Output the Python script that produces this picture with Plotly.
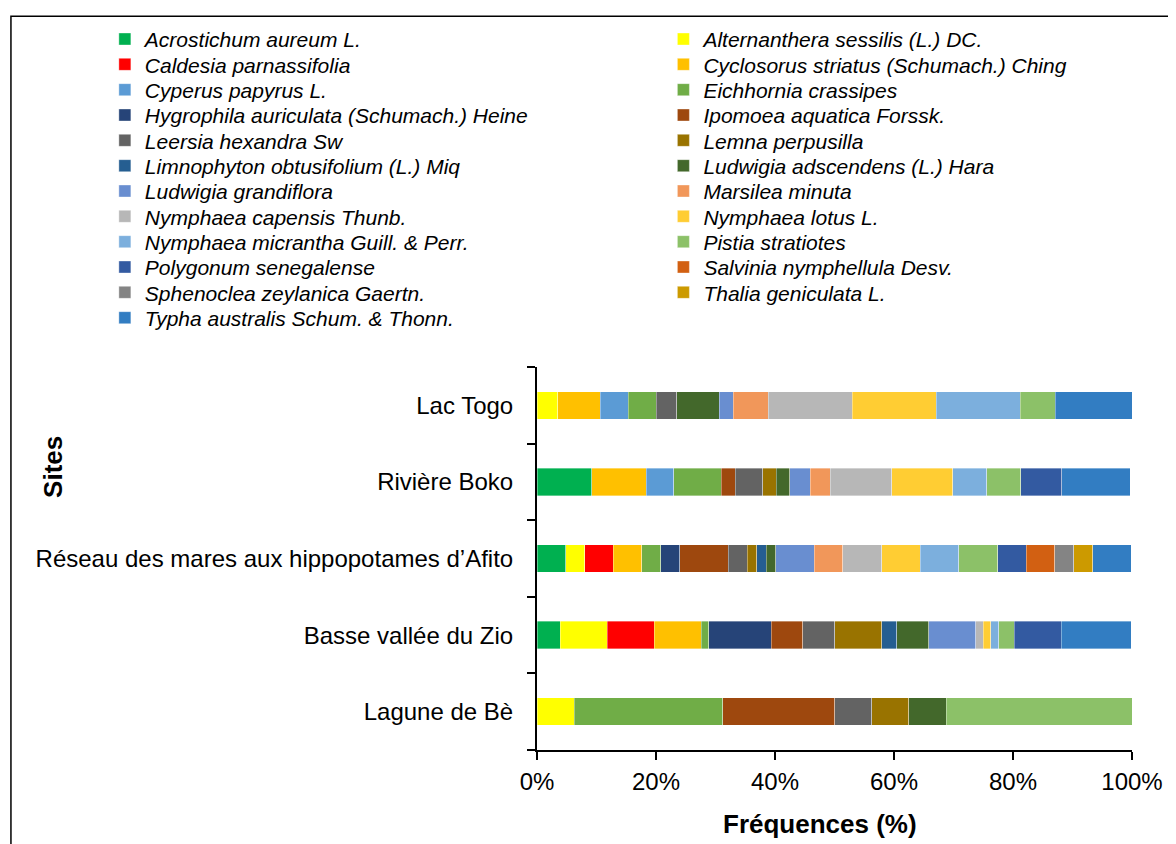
import plotly.graph_objects as go

sites = ["Lagune de Bè", "Basse vallée du Zio",
         "Réseau des mares aux hippopotames d’Afito", "Rivière Boko", "Lac Togo"]

species = [
    "Acrostichum aureum L.", "Alternanthera sessilis (L.) DC.",
    "Caldesia parnassifolia", "Cyclosorus striatus (Schumach.) Ching",
    "Cyperus papyrus L.", "Eichhornia crassipes",
    "Hygrophila auriculata (Schumach.) Heine", "Ipomoea aquatica Forssk.",
    "Leersia hexandra Sw", "Lemna perpusilla",
    "Limnophyton obtusifolium (L.) Miq", "Ludwigia adscendens (L.) Hara",
    "Ludwigia grandiflora", "Marsilea minuta",
    "Nymphaea capensis Thunb.", "Nymphaea lotus L.",
    "Nymphaea micrantha Guill. & Perr.", "Pistia stratiotes",
    "Polygonum senegalense", "Salvinia nymphellula Desv.",
    "Sphenoclea zeylanica Gaertn.", "Thalia geniculata L.",
    "Typha australis Schum. & Thonn.",
]

# values per site, order: Lagune de Bè, Basse vallée du Zio, Réseau..., Rivière Boko, Lac Togo
acrostichum = [0, 3.9, 4.8, 9.2, 0]
alternanthera = [6.25, 7.9, 3.2, 0, 3.5]
caldesia = [0, 7.9, 4.8, 0, 0]
cyclosorus = [0, 7.9, 4.8, 9.2, 7.1]
cyperus = [0, 0, 0, 4.6, 4.7]
eichhornia = [25.0, 1.3, 3.2, 8.0, 4.7]
hygrophila = [0, 10.5, 3.2, 0, 0]
ipomoea = [18.75, 5.3, 8.1, 2.3, 0]
leersia = [6.25, 5.3, 3.2, 4.6, 3.5]
lemna = [6.25, 7.9, 1.6, 2.3, 0]
limnophyton = [0, 2.6, 1.6, 0, 0]
ludwigia_adsc = [6.25, 5.3, 1.6, 2.3, 7.1]
ludwigia_grand = [0, 7.9, 6.5, 3.4, 2.4]
marsilea = [0, 0, 4.8, 3.4, 5.9]
nymphaea_cap = [0, 1.3, 6.5, 10.3, 14.1]
nymphaea_lotus = [0, 1.3, 6.5, 10.3, 14.1]
nymphaea_micr = [0, 1.3, 6.5, 5.7, 14.1]
pistia = [31.25, 2.6, 6.5, 5.7, 5.9]
polygonum = [0, 7.9, 4.8, 6.9, 0]
salvinia = [0, 0, 4.8, 0, 0]
sphenoclea = [0, 0, 3.2, 0, 0]
thalia = [0, 0, 3.2, 0, 0]
typha = [0, 11.8, 6.5, 11.5, 12.9]

series = [acrostichum, alternanthera, caldesia, cyclosorus, cyperus, eichhornia,
          hygrophila, ipomoea, leersia, lemna, limnophyton, ludwigia_adsc,
          ludwigia_grand, marsilea, nymphaea_cap, nymphaea_lotus, nymphaea_micr,
          pistia, polygonum, salvinia, sphenoclea, thalia, typha]

colors = ["#00B050", "#FFFF00", "#FF0000", "#FFC000", "#5B9BD5", "#70AD47",
          "#264478", "#9E480E", "#636363", "#997300", "#255E91", "#43682B",
          "#698ED0", "#F1975A", "#B7B7B7", "#FFCD33", "#7CAFDD", "#8CC168",
          "#335AA1", "#D26012", "#848484", "#CC9A00", "#327DC2"]

x_ticks = [0, 20, 40, 60, 80, 100]

FONT = "Liberation Sans, Arial, sans-serif"

W, H = 1176, 844
OFF = 8  # page body margin
L, R, T, B = 528.5, 52, 357.5, 101.5
pw, ph = W - L - R, H - T - B

def px(xpage):
    return (xpage - OFF - L) / pw

def py(ypage):
    return (H - B - (ypage - OFF)) / ph

# legend layout: two columns, one legend box per entry
COL_X = [104, 663]       # page x of legend box left edge
ROW0, ROW_STEP = 38, 25.4  # page y of first row centre, row spacing

fig = go.Figure()
legends = {}
for i, (name, vals, col) in enumerate(zip(species, series, colors)):
    key = "legend" if i == 0 else f"legend{i + 1}"
    fig.add_trace(go.Bar(
        y=sites, x=[v if v else None for v in vals], name=name, orientation="h",
        marker=dict(color=col, line=dict(color="rgba(255,255,255,0.6)", width=0.6)),
        legend=key,
    ))
    legends[key] = dict(
        xref="paper", yref="paper",
        x=px(COL_X[i % 2]), xanchor="left",
        y=py(ROW0 + (i // 2) * ROW_STEP), yanchor="middle",
        font=dict(family=FONT, size=21, style="italic", color="black"),
        bgcolor="rgba(0,0,0,0)", itemclick=False, itemdoubleclick=False,
    )

fig.update_layout(
    width=W, height=H,
    margin=dict(l=L, r=R, t=T, b=B),
    barmode="stack", bargap=0.64,
    plot_bgcolor="white", paper_bgcolor="white",
    font=dict(family=FONT, color="black", size=24),
    showlegend=True,
    xaxis=dict(
        range=[0, 100], tickvals=x_ticks, ticktext=[f"{t}%" for t in x_ticks],
        showline=True, linecolor="black", linewidth=2,
        ticks="outside", ticklen=8, tickwidth=2, tickcolor="black",
        showgrid=False, zeroline=False, ticklabelstandoff=1,
        tickfont=dict(size=24),
    ),
    xaxis2=dict(
        overlaying="x", anchor="y", range=[0, 100], tickvals=x_ticks,
        showticklabels=False, ticks="inside", ticklen=8, tickwidth=2,
        tickcolor="black", showgrid=False, zeroline=False, showline=False,
    ),
    yaxis=dict(
        type="category", categoryorder="array", categoryarray=sites,
        range=[-0.5, 4.5],
        showline=True, linecolor="black", linewidth=2,
        ticks="outside", ticklen=8, tickwidth=2, tickcolor="black",
        tickson="boundaries", showgrid=False, ticklabelstandoff=17,
        tickfont=dict(size=24),
    ),
    yaxis2=dict(
        overlaying="y", anchor="x", range=[-0.5, 4.5],
        tickvals=[-0.5, 0.5, 1.5, 2.5, 3.5, 4.5],
        showticklabels=False, ticks="inside", ticklen=8, tickwidth=2,
        tickcolor="black", showgrid=False, zeroline=False, showline=False,
    ),
    annotations=[
        dict(text="<b>Sites</b>", xref="paper", yref="paper",
             x=px(52), y=py(466), xanchor="center", yanchor="middle",
             textangle=-90, showarrow=False, font=dict(size=26, family=FONT)),
        dict(text="<b>Fréquences (%)</b>", xref="paper", yref="paper",
             x=px(820), y=py(825), xanchor="center", yanchor="middle",
             showarrow=False, font=dict(size=26, family=FONT)),
    ],
    shapes=[dict(
        type="rect", xref="paper", yref="paper",
        x0=px(10), x1=px(1190), y0=py(870), y1=py(13),
        line=dict(color="black", width=1.5), fillcolor="rgba(0,0,0,0)", layer="below",
    )],
)
fig.update_layout(**legends)

fig.write_html("out.html")
